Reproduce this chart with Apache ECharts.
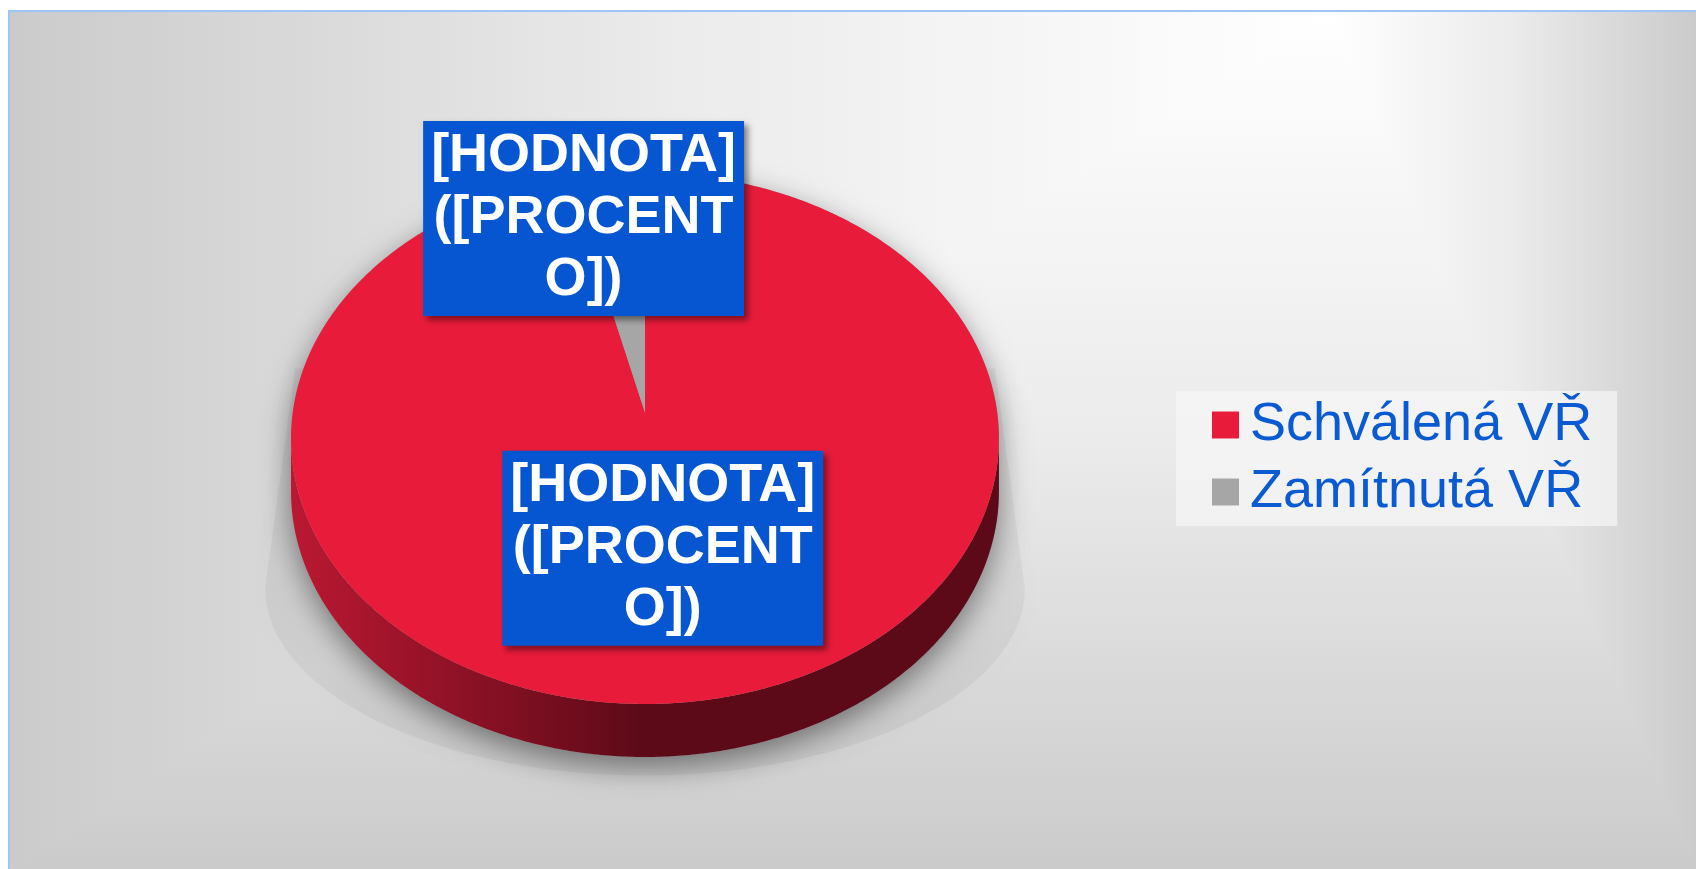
<!DOCTYPE html>
<html>
<head>
<meta charset="utf-8">
<title>Schválená a zamítnutá VŘ</title>
<script src="https://cdn.jsdelivr.net/npm/echarts@6/dist/echarts.min.js"></script>
<style>
  html, body { margin: 0; padding: 0; background: #fff; }
  #main { width: 1696px; height: 869px; }
</style>
</head>
<body>
<div id="main"></div>
<script>
// kategorie a hodnoty (odhad z obrazku, popisky jsou jen zastupne texty)
var categories = ['Schválená VŘ', 'Zamítnutá VŘ'];
var values = [56, 2];
var labelText = '[HODNOTA]\n([PROCENT\nO])';

var topColors = ['#e81b3a', '#a6a6a6'];
var sideColors = [['#bb1832', '#5c0a18'], ['#8c8c8c', '#4c4c4c']];
// umisteni popisku: podil polomeru + posun
var labelRadius = [0.465, 0.82];
var labelShift = [[0, 0], [-30, 0]];

var FONT = '"Liberation Sans", Arial, sans-serif';

var total = values.reduce(function (s, v) { return s + v; }, 0);
var starts = [];
values.reduce(function (s, v, i) { starts[i] = s; return s + v; }, 0);

var chart = echarts.init(document.getElementById('main'));

function renderSlice(params, api) {
  var i = params.seriesIndex;
  var w = api.getWidth(), h = api.getHeight();
  var cx = w * 0.3803, cy = h * 0.5046, rx = w * 0.2087, ry = rx * 0.75;
  var depth = 53;
  var tip = [cx, cy - 26];
  var a0 = api.value(1) / api.value(2) * Math.PI * 2;
  var a1 = (api.value(1) + api.value(0)) / api.value(2) * Math.PI * 2;

  function rim(t, dy) {
    return [cx + rx * Math.sin(t), cy - ry * Math.cos(t) + (dy || 0)];
  }
  function arc(s, e, dy) {
    var pts = [];
    var n = Math.max(2, Math.ceil((e - s) / 0.01));
    for (var k = 0; k <= n; k++) pts.push(rim(s + (e - s) * k / n, dy));
    return pts;
  }

  var children = [];

  if (i === 0) {
    // svetly "perspektivni" stin po stranach
    var fl = [[cx - rx + 4, cy - 70]];
    for (var k = 0; k <= 60; k++) {
      var t = Math.PI * 1.5 - Math.PI * k / 60;
      fl.push([cx + (rx + 26) * Math.sin(t), cy + 150 - 187 * Math.cos(t)]);
    }
    fl.push([cx + rx - 4, cy - 70]);
    children.push({
      type: 'polygon', z2: 0, shape: { points: fl },
      style: { fill: 'rgba(0,0,0,0.045)', shadowBlur: 10, shadowColor: 'rgba(0,0,0,0.06)' }
    });
    // tmavsi stin pod kolacem
    var sh = arc(-Math.PI / 2, Math.PI / 2, 0).concat(arc(Math.PI / 2, Math.PI * 1.5, depth));
    children.push({
      type: 'polygon', z2: 0, shape: { points: sh },
      style: { fill: '#9a9a9a', shadowBlur: 30, shadowColor: 'rgba(0,0,0,0.45)', shadowOffsetY: 10 }
    });
  }

  // bocni stena (viditelna jen predni polovina)
  var s = Math.max(a0, Math.PI / 2), e = Math.min(a1, Math.PI * 1.5);
  if (e > s) {
    var wall = arc(s, e, 0).concat(arc(s, e, depth).reverse());
    children.push({
      type: 'polygon', z2: 1, shape: { points: wall },
      style: {
        fill: {
          type: 'linear', global: true, x: cx - rx, y: 0, x2: cx + rx, y2: 0,
          colorStops: [
            { offset: 0, color: sideColors[i][0] },
            { offset: 0.5, color: sideColors[i][1] },
            { offset: 1, color: sideColors[i][1] }
          ]
        }
      }
    });
  }

  // horni plocha vysece
  children.push({
    type: 'polygon', z2: 5,
    shape: { points: [tip].concat(arc(a0, a1, 0)) },
    style: { fill: topColors[i] }
  });

  // popisek
  var mid = (a0 + a1) / 2;
  var rp = rim(mid, 0);
  var f = labelRadius[i];
  children.push({
    type: 'text', z2: 20,
    x: tip[0] + f * (rp[0] - tip[0]) + labelShift[i][0],
    y: tip[1] + f * (rp[1] - tip[1]) + labelShift[i][1] + 1,
    style: {
      text: labelText, fill: '#ffffff',
      font: 'bold 54px ' + FONT,
      lineHeight: 62, align: 'center', verticalAlign: 'middle',
      backgroundColor: '#0656d1', padding: [9, 8, 0, 8],
      shadowBlur: 6, shadowColor: 'rgba(0,0,0,0.45)', shadowOffsetX: 4, shadowOffsetY: 4
    }
  });

  return { type: 'group', children: children };
}

var series = categories.map(function (name, i) {
  return {
    type: 'custom',
    name: name,
    coordinateSystem: 'none',
    renderItem: renderSlice,
    itemStyle: { color: topColors[i] },
    silent: true,
    data: [[values[i], starts[i], total]]
  };
});

// pozadi: obdelnikovy prechod ze svetleho bodu nahore vpravo
var bgStops = [
  { offset: 0, color: '#ffffff' },
  { offset: 0.5, color: '#ebebeb' },
  { offset: 1, color: '#cbcbcb' }
];
function bgGrad(x, y, x2, y2) {
  return { type: 'linear', global: true, x: x, y: y, x2: x2, y2: y2, colorStops: bgStops };
}
var BX = 9, BY = 11, BR = 1696, BB = 869, LX = 1330;
function bgPart(points, grad) {
  return {
    type: 'polygon', z: -10, silent: true,
    shape: { points: points },
    style: { fill: grad, stroke: grad, lineWidth: 1 }
  };
}

var option = {
  backgroundColor: '#ffffff',
  animation: false,
  graphic: [
    bgPart([[LX, BY], [BX, BY], [BX, BB]], bgGrad(LX, 0, BX, 0)),
    bgPart([[LX, BY], [BR, BY], [BR, BB]], bgGrad(LX, 0, BR, 0)),
    bgPart([[LX, BY], [BX, BB], [BR, BB]], bgGrad(0, BY, 0, BB)),
    {
      type: 'rect', z: -9, silent: true,
      shape: { x: BX, y: BY, width: 1700, height: 870 },
      style: { fill: null, stroke: '#9ec5f7', lineWidth: 2 }
    }
  ],
  legend: {
    orient: 'vertical',
    left: 1176,
    top: 391,
    icon: 'rect',
    itemWidth: 27,
    itemHeight: 27,
    itemGap: 7,
    padding: [4, 25, 4, 36],
    backgroundColor: 'rgba(246,246,246,0.7)',
    selectedMode: false,
    textStyle: {
      fontFamily: FONT,
      fontSize: 54,
      color: '#0a5ad2',
      lineHeight: 60,
      padding: [0, 0, 0, 6]
    },
    data: categories
  },
  series: series
};

chart.setOption(option);
</script>
</body>
</html>
